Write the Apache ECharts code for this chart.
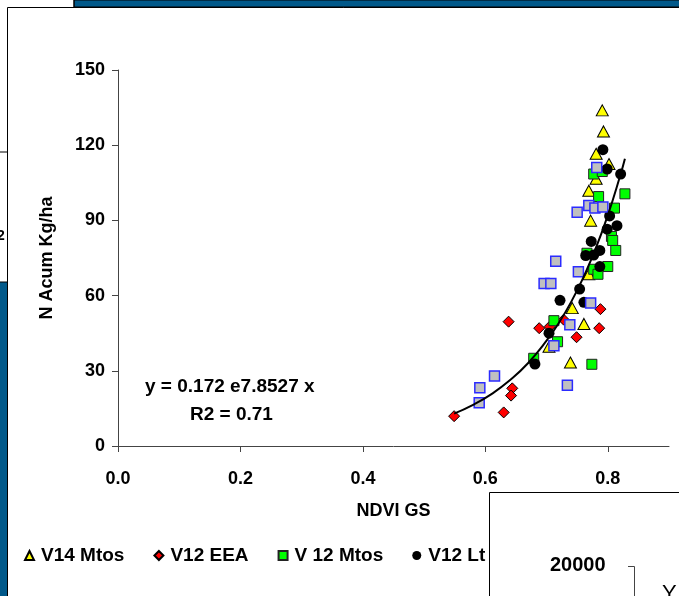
<!DOCTYPE html>
<html>
<head>
<meta charset="utf-8">
<script src="https://cdn.jsdelivr.net/npm/echarts@6/dist/echarts.min.js"></script>
<style>
  html, body { margin: 0; padding: 0; background: #fff; }
  #chart { width: 679px; height: 596px; }
</style>
</head>
<body>
<div id="chart"></div>
<script>
// [NDVI GS, N Acum Kg/ha]
const v14Mtos = [
  [0.791, 133.9], [0.793, 125.5], [0.781, 116.6], [0.802, 112.5], [0.781, 106.6],
  [0.769, 101.8], [0.772, 89.9], [0.769, 68.5], [0.742, 55.0], [0.761, 48.7],
  [0.704, 39.6], [0.739, 33.3]
]
const v12EEA = [
  [0.788, 54.6], [0.638, 49.6], [0.688, 47.0], [0.728, 50.4], [0.705, 47.6],
  [0.786, 47.0], [0.749, 43.4], [0.644, 23.0], [0.642, 20.1], [0.630, 13.4],
  [0.549, 11.9]
]
const v12Mtos = [
  [0.777, 108.5], [0.791, 109.5], [0.785, 99.5], [0.828, 100.6], [0.811, 94.9],
  [0.806, 83.6], [0.808, 82.0], [0.813, 78.0], [0.766, 76.9], [0.800, 71.6],
  [0.777, 70.5], [0.784, 68.5], [0.712, 50.0], [0.718, 41.6], [0.679, 35.0],
  [0.774, 32.6]
]
const v12Lt = [
  [0.792, 118.2], [0.799, 110.5], [0.821, 108.5], [0.803, 91.8], [0.799, 86.5],
  [0.815, 87.9], [0.773, 81.6], [0.764, 76.0], [0.787, 78.0], [0.777, 76.2],
  [0.787, 71.6], [0.754, 62.6], [0.722, 58.1], [0.761, 57.3], [0.704, 45.0],
  [0.681, 32.7]
]
const v14EEA = [
  [0.782, 111.1], [0.769, 95.9], [0.779, 94.9], [0.792, 95.3], [0.750, 93.3],
  [0.715, 73.7], [0.752, 69.5], [0.696, 64.8], [0.707, 64.8], [0.772, 57.0],
  [0.738, 48.4], [0.712, 40.0], [0.734, 24.2], [0.615, 27.9], [0.591, 23.2],
  [0.590, 17.3]
]
// exponential trend line
const trendX = [0.549, 0.58, 0.61, 0.64, 0.67, 0.70, 0.72, 0.74, 0.76, 0.78, 0.80, 0.82, 0.828]
const trendY = [12.9, 16.4, 20.7, 26.2, 33.1, 42.0, 49.1, 57.4, 67.2, 78.6, 92.0, 107.6, 114.6]

const xTicks = [0, 0.2, 0.4, 0.6, 0.8]
const legendNames = ['V14 Mtos', 'V12 EEA', 'V 12 Mtos', 'V12 Lt']

const font = 'Liberation Sans, Arial, sans-serif'
const blue = '#01598a'
const bold = { fontFamily: font, fontWeight: 'bold', fontSize: 18, color: '#000' }

const chart = echarts.init(document.getElementById('chart'))

chart.setOption({
  animation: false,
  backgroundColor: '#fff',
  grid: { left: 118, right: 10, top: 70, bottom: 150 },
  xAxis: {
    type: 'value',
    min: 0,
    max: 0.9,
    name: 'NDVI GS',
    nameLocation: 'middle',
    nameGap: 56,
    nameTextStyle: bold,
    splitLine: { show: false },
    axisLine: { lineStyle: { color: '#444', width: 1 } },
    axisTick: { length: 6, customValues: xTicks, lineStyle: { color: '#444' } },
    axisLabel: {
      customValues: xTicks,
      margin: 24,
      formatter: v => v.toFixed(1),
      ...bold
    }
  },
  yAxis: {
    type: 'value',
    min: 0,
    max: 150,
    interval: 30,
    name: 'N Acum Kg/ha',
    nameLocation: 'middle',
    nameGap: 62,
    nameTextStyle: bold,
    splitLine: { show: false },
    axisLine: { show: true, lineStyle: { color: '#444', width: 1 } },
    axisTick: { show: true, length: 6, lineStyle: { color: '#444' } },
    axisLabel: { margin: 13, ...bold }
  },
  legend: {
    data: legendNames,
    left: 19,
    top: 541,
    width: 1200,
    itemGap: 29,
    itemWidth: 9,
    itemHeight: 9,
    textStyle: { ...bold, fontSize: 19, padding: [0, 0, 0, 2] }
  },
  series: [
    {
      name: 'V14 Mtos', type: 'scatter', data: v14Mtos, symbol: 'triangle', symbolSize: [12, 11],
      itemStyle: { color: '#ffff00', borderColor: '#000', borderWidth: 1, opacity: 1 }
    },
    {
      name: 'V12 EEA', type: 'scatter', data: v12EEA, symbol: 'diamond', symbolSize: 11,
      itemStyle: { color: '#ff0000', borderColor: '#000', borderWidth: 1, opacity: 1 }
    },
    {
      name: 'V 12 Mtos', type: 'scatter', data: v12Mtos, symbol: 'rect', symbolSize: 10,
      itemStyle: { color: '#00ff00', borderColor: '#222', borderWidth: 1, opacity: 1 }
    },
    {
      name: 'V12 Lt', type: 'scatter', data: v12Lt, symbol: 'circle', symbolSize: 11,
      itemStyle: { color: '#000', opacity: 1 }
    },
    {
      name: 'V14 EEA', type: 'scatter', data: v14EEA, symbol: 'rect', symbolSize: 10,
      itemStyle: { color: '#c0c0c0', borderColor: '#2b2bff', borderWidth: 1.5, opacity: 1 }
    },
    {
      name: 'trend', type: 'line', smooth: true, showSymbol: false, silent: true,
      data: trendX.map((x, i) => [x, trendY[i]]),
      lineStyle: { color: '#000', width: 2 }, z: 3
    }
  ],
  graphic: [
    // equation label
    { type: 'text', left: 145, top: 377, z: 50, style: { text: 'y = 0.172 e7.8527 x', font: 'bold 19px ' + font, fill: '#000' } },
    { type: 'text', left: 190, top: 405, z: 50, style: { text: 'R2 = 0.71', font: 'bold 19px ' + font, fill: '#000' } },
    // surrounding slide pieces
    { type: 'rect', shape: { x: 74, y: 0, width: 610, height: 7 }, z: 60, style: { fill: blue, stroke: '#000', lineWidth: 1 } },
    { type: 'line', shape: { x1: 74, y1: 0, x2: 74, y2: 7 }, z: 61, style: { stroke: '#000', lineWidth: 1 } },
    { type: 'rect', shape: { x: -2, y: 282, width: 9.5, height: 320 }, z: 60, style: { fill: blue, stroke: '#000', lineWidth: 1 } },
    { type: 'line', shape: { x1: 0, y1: 152, x2: 7.5, y2: 152 }, z: 61, style: { stroke: '#000', lineWidth: 1 } },
    { type: 'line', shape: { x1: 7.5, y1: 7.5, x2: 7.5, y2: 596 }, z: 61, style: { stroke: '#000', lineWidth: 1 } },
    { type: 'line', shape: { x1: 7.5, y1: 7.5, x2: 679, y2: 7.5 }, z: 61, style: { stroke: '#000', lineWidth: 1 } },
    { type: 'text', left: -3, top: 229, z: 61, style: { text: '2', font: 'bold 14px ' + font, fill: '#000' } },
    // overlapping chart at the lower right
    { type: 'rect', shape: { x: 489.5, y: 492.5, width: 200, height: 120 }, z: 70, style: { fill: '#fff', stroke: '#000', lineWidth: 1 } },
    { type: 'text', left: 550, top: 555, z: 71, style: { text: '20000', font: 'bold 20px ' + font, fill: '#000' } },
    { type: 'line', shape: { x1: 628, y1: 566.5, x2: 634.5, y2: 566.5 }, z: 71, style: { stroke: '#444', lineWidth: 1 } },
    { type: 'line', shape: { x1: 634.5, y1: 566.5, x2: 634.5, y2: 600 }, z: 71, style: { stroke: '#444', lineWidth: 1 } },
    { type: 'text', left: 662, top: 583, z: 71, style: { text: 'Y', font: '22px ' + font, fill: '#000' } }
  ]
})
</script>
</body>
</html>
